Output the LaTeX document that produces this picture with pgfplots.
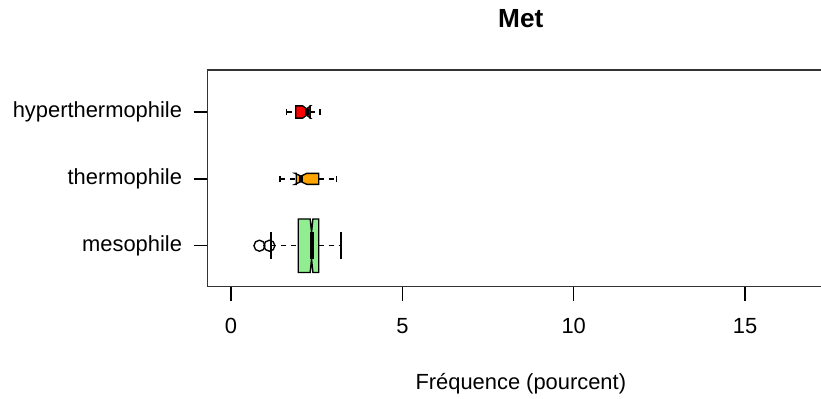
\documentclass[border=0pt]{standalone}
\usepackage{fontspec}
\setmainfont{Liberation Sans}
\usepackage{pgfplots}
\pgfplotsset{compat=1.18}
\definecolor{lgreen}{RGB}{144,238,144}
\definecolor{rorange}{RGB}{255,165,0}
\begin{document}
\fontsize{10.95pt}{13pt}\selectfont
\begin{tikzpicture}
\begin{axis}[
  at={(103.85pt,55.65pt)}, anchor=south west,
  width=313.1pt, height=108.35pt, scale only axis,
  xmin=-0.68, xmax=17.59, ymin=0.387, ymax=3.628,
  axis line style={line width=0.68pt, black!80},
  xtick={0,5,10,15}, xticklabels={0,5,10,15},
  ytick={1,2,3}, yticklabels={mesophile,thermophile,hyperthermophile},
  xtick pos=bottom, ytick pos=left,
  tick align=outside, major tick length=7pt,
  tick style={line width=0.68pt, black},
  xticklabel style={anchor=center, yshift=-12.5pt, font=\fontsize{10.95pt}{13pt}\selectfont},
  yticklabel style={anchor=east, xshift=-2pt, font=\fontsize{10.95pt}{13pt}\selectfont},
  title={\bfseries Met},
  title style={at={(0.5,1)}, anchor=center, yshift=19.5pt, font=\fontsize{13.1pt}{15pt}\selectfont},
  xlabel={Fréquence (pourcent)},
  xlabel style={at={(0.5,0)}, anchor=center, yshift=-48.65pt, font=\fontsize{10.95pt}{13pt}\selectfont},
  cycle list={{black,mark=none}},
  every axis plot/.append style={line width=0.68pt},
  whisk/.style={dash pattern=on 2.5pt off 2.5pt},
]
% mesophile
\addplot[fill=lgreen, draw=black] coordinates {(1.96,0.60) (2.31,0.60) (2.35,0.80) (2.39,0.60) (2.56,0.60) (2.56,1.40) (2.39,1.40) (2.35,1.20) (2.31,1.40) (1.96,1.40)} -- cycle;
\addplot[line width=2pt] coordinates {(2.35,0.80) (2.35,1.20)};
\addplot[whisk] coordinates {(1.17,1) (1.96,1)};
\addplot[whisk] coordinates {(2.56,1) (3.21,1)};
\addplot coordinates {(1.17,0.8) (1.17,1.2)};
\addplot coordinates {(3.21,0.8) (3.21,1.2)};
\addplot[only marks, mark=o, mark size=2.75pt] coordinates {(0.83,1) (1.12,1)};
% thermophile
\addplot[fill=rorange, draw=black] coordinates {(1.905,1.918) (1.87,1.918) (2.04,1.959) (2.21,1.918) (2.56,1.918) (2.56,2.082) (2.21,2.082) (2.04,2.041) (1.87,2.082) (1.905,2.082)} -- cycle;
\addplot[line width=2pt] coordinates {(2.04,1.959) (2.04,2.041)};
\addplot[whisk] coordinates {(1.43,2) (1.905,2)};
\addplot[whisk] coordinates {(2.56,2) (3.08,2)};
\addplot coordinates {(1.43,1.959) (1.43,2.041)};
\addplot coordinates {(3.08,1.959) (3.08,2.041)};
% hyperthermophile
\addplot[fill=red, draw=black] coordinates {(1.89,2.908) (2.09,2.908) (2.21,2.954) (2.32,2.908) (2.31,2.908) (2.31,3.092) (2.32,3.092) (2.21,3.046) (2.09,3.092) (1.89,3.092)} -- cycle;
\addplot[line width=2pt] coordinates {(2.21,2.954) (2.21,3.046)};
\addplot[whisk] coordinates {(1.625,3) (1.89,3)};
\addplot[whisk] coordinates {(2.31,3) (2.60,3)};
\addplot coordinates {(1.625,2.954) (1.625,3.046)};
\addplot coordinates {(2.60,2.954) (2.60,3.046)};
\end{axis}
\pgfresetboundingbox
\useasboundingbox (0,0) rectangle (410.5pt,199pt);
\end{tikzpicture}
\end{document}
